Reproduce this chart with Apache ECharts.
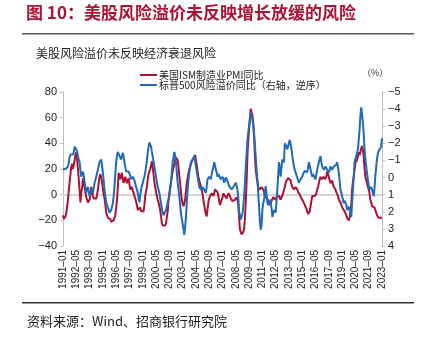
<!DOCTYPE html>
<html>
<head>
<meta charset="utf-8">
<script src="https://cdn.jsdelivr.net/npm/echarts@6/dist/echarts.min.js"></script>
<style>
  html, body { margin: 0; padding: 0; background: #fff; }
  #chart { width: 422px; height: 337px; }
</style>
</head>
<body>
<div id="chart"></div>
<script>
// Monthly categories from 1991-01 to 2023-01
const startYear = 1991;
const monthCount = 385;
const categories = [];
for (let i = 0; i < monthCount; i++) {
  const y = startYear + Math.floor(i / 12);
  const m = (i % 12) + 1;
  categories.push(y + '-' + (m < 10 ? '0' + m : m));
}

// US ISM manufacturing PMI, year-over-year change (%), left axis
const ismPmiYoY = [
  -16, -19, -18, -17, -14, -9, -4, 4, 10, 16, 22, 24,          // 1991
  20, 21, 27, 31, 33, 27, 20, 12, 3, -6, 2, 5,                 // 1992
  13, 9, 6, 2, -2, -3, -6, -5, -4, 0, 6, 3,                    // 1993
  -1, -3, -4, -4, -3, 0, 4, 9, 14, 16, 17, 10,                 // 1994
  5, 0, -3, -8, -14, -16, -18, -17, -17, -19, -21, -20,        // 1995
  -21, -20, -18, -16, -10, -4, 6, 17, 14, 12, 15, 17,          // 1996
  12, 9, 12, 14, 11, 9, 11, 13, 8, 4, 5, 6,                    // 1997
  3, 1, -1, -3, -4, -8, -12, -13, -11, -10, -13, -14,          // 1998
  -14, -13, -8, -1, 3, 6, 12, 16, 18, 20, 23, 26,              // 1999
  21, 16, 10, 6, 2, -1, -4, -6, -9, -12, -17, -22,             // 2000
  -24, -25, -25, -24, -22, -21, -13, -4, 1, 6, 10, 14,         // 2001
  18, 21, 24, 27, 29, 30, 27, 22, 15, 9, 2, -4,                // 2002
  -7, -9, -7, -4, 3, 9, 13, 17, 20, 22, 24, 26,                // 2003
  26, 27, 29, 31, 27, 23, 18, 14, 11, 9, 6, 4,                 // 2004
  0, -4, -8, -12, -15, -17, -11, -6, -3, -1, 0, 1,             // 2005
  0, -1, 1, 4, 5, 5, 2, -1, -5, -8, -6, -5,                    // 2006
  -2, 1, 0, -1, -2, -3, -1, 1, 0, -1, -3, -4,                  // 2007
  -5, -6, -5, -4, -5, -2, -4, -8, -18, -27, -29, -31,          // 2008
  -31, -29, -27, -18, -6, 10, 30, 42, 51, 60, 67, 64,          // 2009
  62, 56, 46, 30, 20, 14, 10, 6, 5, 4, 5, 6,                   // 2010
  5, 4, 2, -1, -1, -1, -3, -6, -8, -9, -7, -5,                 // 2011
  -4, -2, -1, -3, -4, -2, -1, -1, -1, -2, -4, -2,              // 2012
  -1, 1, 4, 6, 9, 11, 12, 13, 14, 13, 11, 8,                   // 2013
  6, 5, 4, 5, 6, 5, 4, 2, 1, 0, -1, -3,                        // 2014
  -4, -5, -6, -8, -9, -11, -13, -15, -16, -13, -9, -5,         // 2015
  -1, -2, -2, -1, -1, 1, 4, 6, 9, 12, 14, 12,                  // 2016
  11, 12, 14, 12, 11, 14, 18, 16, 14, 11, 9, 10,               // 2017
  11, 8, 6, 5, 4, 2, 1, -1, -4, -5, -6, -8,                    // 2018
  -9, -11, -12, -13, -14, -16, -18, -19, -20, -18, -14, -8,    // 2019
  4, 10, 14, 20, 25, 26, 27, 30, 33, 31, 30, 36,               // 2020
  38, 35, 30, 20, 14, 11, 9, 6, 4, 1, -4, -6,                  // 2021
  -9, -9, -9, -10, -12, -14, -16, -17, -18, -18, -17, -18,     // 2022
  -18                                                          // 2023
];

// S&P 500 equity risk premium, year-over-year change (%), right axis (inverted)
const spxRiskPremiumYoY = [
  -0.5, -0.6, -0.6, -0.5, -0.45, -0.55, -0.65, -0.9, -1.2, -1.35, -1.45, -1.4,   // 1991
  -1.35, -1.5, -1.8, -1.75, -1.65, -1.5, -1.25, -1.05, -0.9, -0.4, -0.05, -0.2,  // 1992
  -0.35, -0.1, 0.25, 0.55, 0.9, 0.7, 0.55, 0.8, 1.1, 0.9, 0.7, 0.8,              // 1993
  0.9, 0.6, 0.3, 0.15, -0.05, -0.25, -0.45, -0.7, -0.9, -1.0, -1.05, -0.7,       // 1994
  -0.3, 0.2, 0.7, 1.1, 1.45, 1.6, 1.7, 1.9, 2.05, 1.95, 1.9, 1.7,                // 1995
  1.5, 1.1, 0.5, -0.2, -0.9, -1.3, -1.5, -1.4, -1.25, -1.15, -1.05, -1.3,        // 1996
  -1.45, -1.2, -0.9, -0.6, -0.35, -0.4, -0.45, -0.35, -0.3, -0.1, 0.1, 0.0,      // 1997
  -0.05, 0.05, 0.15, 0.35, 0.55, 0.7, 0.9, 1.2, 1.45, 1.0, 0.7, 0.5,             // 1998
  0.3, 0.1, -0.05, -0.3, -0.65, -1.0, -1.45, -1.8, -2.05, -1.95, -1.8, -1.5,     // 1999
  -1.25, -0.95, -0.65, -0.35, -0.05, 0.25, 0.55, 0.7, 0.9, 1.2, 1.5, 1.8,        // 2000
  2.05, 2.2, 2.3, 2.1, 1.9, 1.7, 1.45, 1.3, 1.1, 0.7, 0.3, -0.3,                 // 2001
  -0.9, -1.2, -1.5, -1.3, -0.9, -0.3, 0.3, 0.7, 1.1, 1.6, 2.1, 2.4,              // 2002
  2.7, 3.0, 3.35, 2.9, 2.3, 1.5, 0.7, 0.2, -0.3, -0.6, -0.9, -1.0,               // 2003
  -1.05, -1.1, -1.25, -1.0, -0.65, -0.35, -0.05, 0.25, 0.55, 0.65, 0.7, 0.6,     // 2004
  0.55, 0.65, 0.7, 0.8, 0.9, 0.5, 0.1, 0.0, -0.05, 0.05, 0.1, -0.2,              // 2005
  -0.45, -0.6, -0.9, -0.7, -0.45, -0.3, -0.05, -0.2, -0.3, -0.1, 0.1, 0.0,       // 2006
  -0.05, 0.1, 0.3, 0.15, 0.0, 0.1, 0.2, 0.35, 0.5, 0.45, 0.55, 0.7,              // 2007
  0.6, 0.55, 0.6, 0.45, 0.3, 0.5, 0.7, 1.2, 2.0, 2.2, 2.45, 2.3,                 // 2008
  2.1, 1.7, 1.1, 0.3, -0.6, -1.4, -2.2, -2.6, -3.0, -3.4, -3.8, -3.7,            // 2009
  -3.4, -3.0, -2.6, -1.9, -1.2, -0.5, 0.1, 0.9, 1.7, 2.5, 3.05, 2.8,             // 2010
  1.9, 1.5, 1.3, 0.9, 0.5, 1.0, 1.45, 1.6, 1.7, 1.5, 1.3, 1.8,                   // 2011
  2.3, 2.1, 1.9, 2.0, 2.05, 1.4, 0.7, -0.1, -0.9, -0.5, -0.05, -0.6,             // 2012
  -1.05, -0.95, -0.9, -2.0, -1.95, -1.8, -1.65, -1.85, -2.05, -2.2, -2.25, -1.7, // 2013
  -1.25, -0.95, -0.65, -0.45, -0.3, -0.15, -0.05, 0.15, 0.3, 0.2, 0.1, 0.0,      // 2014
  -0.05, -0.2, -0.3, -0.4, -0.45, -0.4, -0.3, -0.6, -0.9, -0.7, -0.45, -0.25,    // 2015
  -0.05, -0.2, -0.3, -0.1, 0.1, -0.2, -0.45, -0.7, -0.9, -1.1, -1.25, -0.9,      // 2016
  -0.65, -0.55, -0.45, -0.55, -0.65, -0.55, -0.45, -0.35, -0.3, -0.45, -0.65, -0.55, // 2017
  -0.45, -0.55, -0.65, -0.6, -0.65, -0.75, -0.9, -0.6, -0.3, 0.2, 0.7, 0.9,      // 2018
  1.1, 1.3, 1.5, 1.35, 1.3, 1.6, 1.9, 1.8, 1.7, 1.9, 2.1, 2.3,                   // 2019
  1.5, 0.7, -0.1, -0.9, -1.1, -1.25, -1.45, -1.65, -2.2, -2.8, -3.6, -4.1,       // 2020
  -4.18, -3.24, -2.6, -1.65, -1.1, -0.65, -0.25, 0.12, 0.45, 0.7, 0.6, 0.55,     // 2021
  0.6, 0.9, 1.1, 0.6, -0.1, -0.6, -1.1, -1.4, -1.55, -1.6, -1.5, -1.8,           // 2022
  -2.3                                                                            // 2023
];

// Axis tick settings
const leftAxisMin = -40, leftAxisMax = 80, leftAxisStep = 20;
const rightAxisMin = -5, rightAxisMax = 4, rightAxisStep = 1;
const labelEvery = 16; // months between date labels

const RED = '#AE1134';
const BLUE = '#1E6BB8';
const NUM_FONT = '"Liberation Sans", Arial, sans-serif';
const CJK_FONT = '"Noto Sans CJK SC", "Noto Sans", sans-serif';
const minusFmt = v => String(v).replace('-', '\u2212');

const chart = echarts.init(document.getElementById('chart'), null, { renderer: 'canvas' });

chart.setOption({
  backgroundColor: '#ffffff',
  animation: false,
  textStyle: { fontFamily: NUM_FONT },
  graphic: [
    { type: 'text', left: 26, top: 4,
      style: { text: '图 10：美股风险溢价未反映增长放缓的风险', fill: RED,
               font: 'bold 17px ' + CJK_FONT } },
    { type: 'rect', shape: { x: 22, y: 33, width: 392, height: 1.5 },
      style: { fill: '#555555' } },
    { type: 'text', left: 36, top: 47,
      style: { text: '美股风险溢价未反映经济衰退风险', fill: '#222222',
               font: '12px ' + CJK_FONT } },
    { type: 'text', left: 362, top: 68,
      style: { text: '（%）', fill: '#333333', font: '9px ' + CJK_FONT } },
    { type: 'rect', shape: { x: 22, y: 302, width: 392, height: 1.5 },
      style: { fill: '#333333' } },
    { type: 'text', left: 27, top: 315,
      style: { text: '资料来源：Wind、招商银行研究院', fill: '#222222',
               font: '13px ' + CJK_FONT } }
  ],
  legend: {
    orient: 'vertical',
    left: 135, top: 65,
    itemWidth: 17, itemHeight: 2, itemGap: 0,
    icon: 'rect',
    textStyle: { fontSize: 10, color: '#222', fontFamily: CJK_FONT, padding: [0, 0, 0, -3] },
    data: ['美国ISM制造业PMI同比', '标普500风险溢价同比（右轴，逆序）']
  },
  grid: { left: 63, right: 40, top: 92, bottom: 91, containLabel: false },
  xAxis: {
    type: 'category',
    data: categories,
    boundaryGap: false,
    axisLine: { show: false },
    axisTick: { show: false },
    axisLabel: {
      interval: labelEvery - 1,
      rotate: 90,
      margin: 4,
      fontSize: 10,
      color: '#222',
      fontFamily: NUM_FONT,
      formatter: v => v.replace('-', '\u2013')
    },
    splitLine: { show: false }
  },
  yAxis: [
    {
      type: 'value', position: 'left',
      min: leftAxisMin, max: leftAxisMax, interval: leftAxisStep,
      axisLine: { show: true, lineStyle: { color: '#bfbfbf', width: 1 } },
      axisTick: { show: true, length: 3, lineStyle: { color: '#bfbfbf' } },
      axisLabel: { fontSize: 11, color: '#222', margin: 6, formatter: minusFmt },
      splitLine: { show: false }
    },
    {
      type: 'value', position: 'right', inverse: true,
      min: rightAxisMin, max: rightAxisMax, interval: rightAxisStep,
      axisLine: { show: true, lineStyle: { color: '#bfbfbf', width: 1 } },
      axisTick: { show: true, length: 3, lineStyle: { color: '#bfbfbf' } },
      axisLabel: { fontSize: 11, color: '#222', margin: 6, formatter: minusFmt },
      splitLine: { show: false }
    }
  ],
  series: [
    {
      name: '美国ISM制造业PMI同比',
      type: 'line',
      yAxisIndex: 0,
      data: ismPmiYoY,
      showSymbol: false,
      lineStyle: { color: RED, width: 2 },
      itemStyle: { color: RED },
      z: 3,
      markLine: {
        silent: true, symbol: 'none', label: { show: false },
        lineStyle: { color: '#d6d6d6', width: 2, type: 'solid' },
        data: [{ yAxis: 0 }],
        z: 1
      }
    },
    {
      name: '标普500风险溢价同比（右轴，逆序）',
      type: 'line',
      yAxisIndex: 1,
      data: spxRiskPremiumYoY,
      showSymbol: false,
      lineStyle: { color: BLUE, width: 2 },
      itemStyle: { color: BLUE },
      z: 4
    }
  ]
});
</script>
</body>
</html>
